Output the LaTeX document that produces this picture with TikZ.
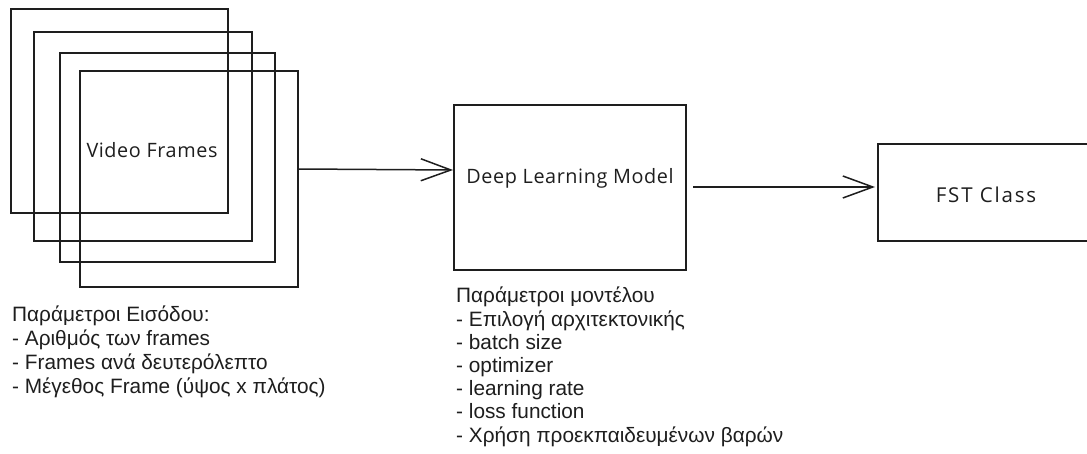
\documentclass[tikz,border=0pt]{standalone}
\usepackage{fontspec}
\setmainfont{Liberation Sans}
\newfontfamily\handfont[LetterSpace=3]{Open Sans}
\newfontfamily\handwidefont[LetterSpace=9]{Open Sans}
\usetikzlibrary{arrows.meta}
\definecolor{ink}{HTML}{1E1E1E}
\begin{document}
\begin{tikzpicture}[x=1pt,y=-1pt,
  sketchbox/.style={draw=ink, line width=1.6pt, minimum width=#1, inner sep=0pt, outer sep=0pt},
  handlabel/.style={font=\handfont\fontsize{19.8}{22}\selectfont, text=ink, inner sep=0pt},
  paramtext/.style={font=\fontsize{20.8}{#1}\selectfont, text=ink, align=left, inner sep=0pt, anchor=base west},
  flow/.style={draw=ink, line width=1.5pt, -{Straight Barb[length=30pt,width=22pt,line width=1.5pt]}}
]
\clip (0,0) rectangle (1087,454);
\fill[white] (0,0) rectangle (1087,454);

% stack of video frames
\node[sketchbox=217pt, minimum height=204pt] (f1) at (119.5,111) {};
\node[sketchbox=218pt, minimum height=209pt] (f2) at (143,136.5) {};
\node[sketchbox=215pt, minimum height=209pt] (f3) at (167.5,157.5) {};
\node[sketchbox=218pt, minimum height=216pt] (f4) at (189,179) {};
\node[handlabel] (vf) at (152,150) {Video Frames};

% model and output class
\node[sketchbox=232pt, minimum height=165pt] (dl) at (570,187.5) {};
\node[handlabel] (dltext) at (570,178) {Deep Learning Model};
\node[sketchbox=217pt, minimum height=97pt] (fst) at (986.5,192.5) {};
\node[handlabel, font=\handwidefont\fontsize{20.5}{22}\selectfont] (fsttext) at (986,195) {FST Class};

% connectors
\draw[flow, shorten >=1pt] ([yshift=10pt]f4.east) -- ([yshift=17.5pt]dl.west);
\draw[flow, shorten >=3pt] ([xshift=7pt,yshift=0.5pt]dl.east) -- ([yshift=5.5pt]fst.west);

% parameter lists (anchored at the baseline of their last line)
\node[paramtext=23.8] (inparams) at (12,393) {Παράμετροι Εισόδου:\\
- Αριθμός των frames\\
- Frames ανά δευτερόλεπτο\\
- Μέγεθος Frame (ύψος x πλάτος)};
\node[paramtext=23.2] (modelparams) at (456,442) {Παράμετροι μοντέλου\\
- Επιλογή αρχιτεκτονικής\\
- batch size\\
- optimizer\\
- learning rate\\
- loss function\\
- Χρήση προεκπαιδευμένων βαρών};
\end{tikzpicture}
\end{document}
